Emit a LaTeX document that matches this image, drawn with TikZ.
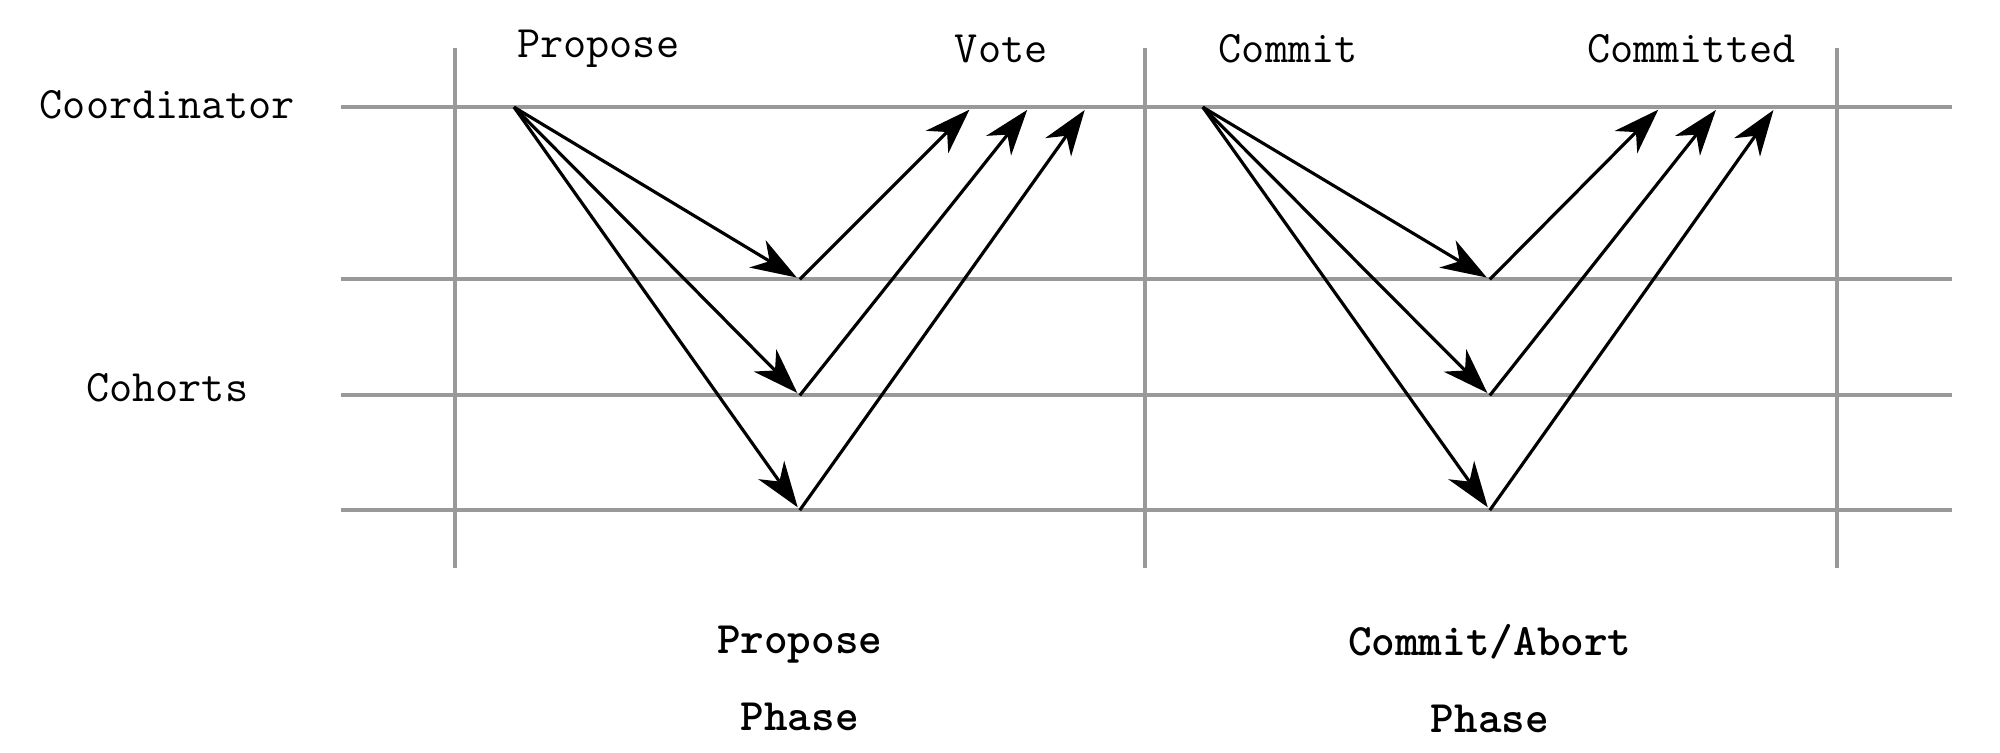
\documentclass[tikz,border=0pt]{standalone}
\usepackage{fontspec}
\usetikzlibrary{arrows.meta}
\begin{document}
\begin{tikzpicture}[x=0.012755cm,y=-0.012755cm,
  grid/.style={draw=black!40,line width=1.1pt},
  msg/.style={draw=black,line width=0.9pt,-{Stealth[length=13pt,width=9pt,inset=4pt]},shorten >=1pt},
  lbl/.style={font=\ttfamily\fontsize{12.8}{16}\selectfont},
  phase/.style={font=\ttfamily\bfseries\fontsize{12.8}{22}\selectfont,align=center}]
\useasboundingbox (0,0) rectangle (1568,590);
% grid
\foreach \y/\n in {84/a,219/b,310/c,400/d}{
  \coordinate (hl\n) at (267,\y); \coordinate (hr\n) at (1530,\y);
  \draw[grid] (hl\n) -- (hr\n);}
\foreach \x/\n in {357/1,898/2,1440/3}{
  \coordinate (vt\n) at (\x,38); \coordinate (vb\n) at (\x,445);
  \draw[grid] (vt\n) -- (vb\n);}
% labels
\node[lbl] (coord) at (131,82) {Coordinator};
\node[lbl] (coh) at (131,304) {Cohorts};
\node[lbl] (prop) at (469,38) {Propose};
\node[lbl] (vote) at (785,38) {Vote};
\node[lbl] (comm) at (1010,38) {Commit};
\node[lbl] (commd) at (1326,38) {Committed};
\node[phase] (ph1) at (627,532) {Propose\\Phase};
\node[phase] (ph2) at (1168,532) {Commit/Abort\\Phase};
% phase 1
\coordinate (s1) at (403,84);
\coordinate (c11) at (627,219); \coordinate (c12) at (627,310); \coordinate (c13) at (627,400);
\coordinate (r11) at (762,84); \coordinate (r12) at (807,84); \coordinate (r13) at (852,84);
\foreach \i in {1,2,3}{\draw[msg] (s1) -- (c1\i); \draw[msg] (c1\i) -- (r1\i);}
% phase 2
\coordinate (s2) at (943,84);
\coordinate (c21) at (1168,219); \coordinate (c22) at (1168,310); \coordinate (c23) at (1168,400);
\coordinate (r21) at (1302,84); \coordinate (r22) at (1347,84); \coordinate (r23) at (1392,84);
\foreach \i in {1,2,3}{\draw[msg] (s2) -- (c2\i); \draw[msg] (c2\i) -- (r2\i);}
\end{tikzpicture}
\end{document}
